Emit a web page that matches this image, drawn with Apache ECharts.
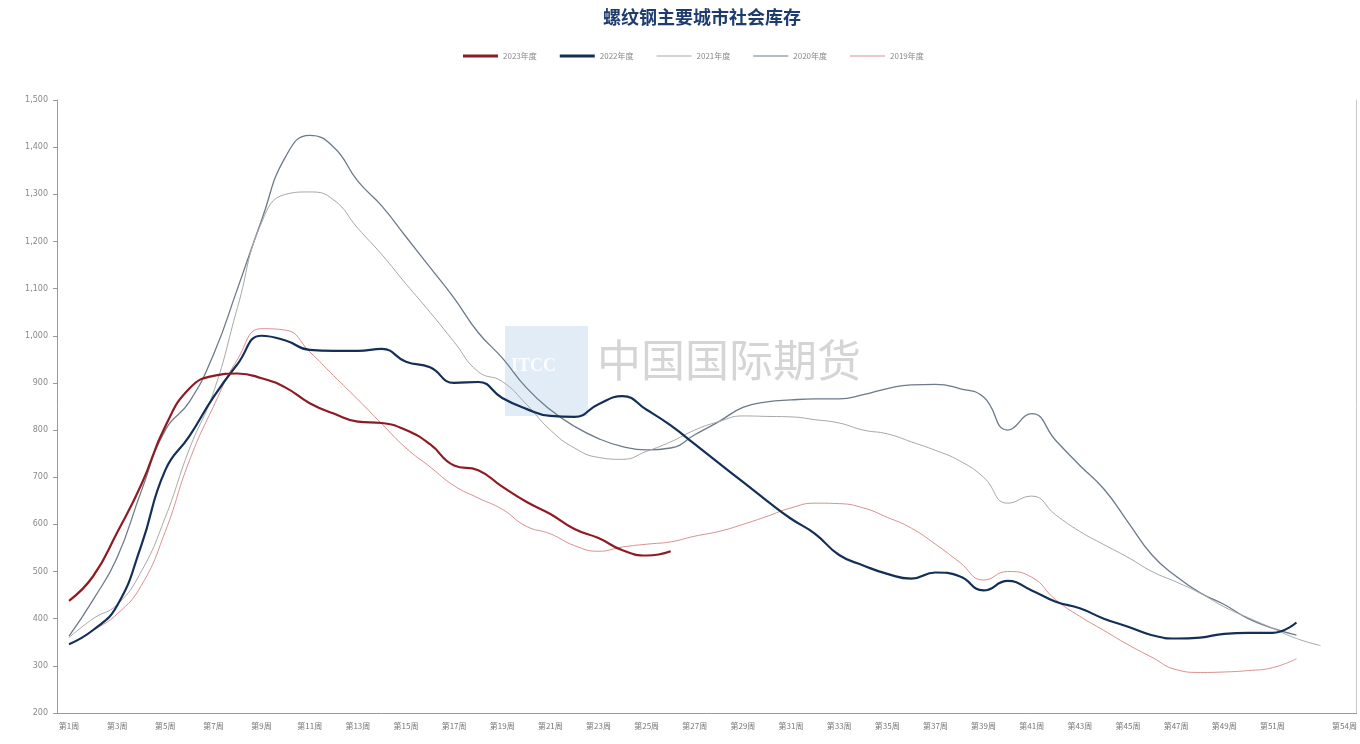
<!DOCTYPE html>
<html>
<head>
<meta charset="utf-8">
<script src="https://cdn.jsdelivr.net/npm/echarts@6/dist/echarts.min.js"></script>
<style>
html,body{margin:0;padding:0;background:#fff;}
#chart{width:1360px;height:744px;}
</style>
</head>
<body>
<div id="chart"></div>
<script>
const weeks = [];
for (let i = 1; i <= 54; i++) weeks.push('第' + i + '周');

const seriesNames = ['2023年度', '2022年度', '2021年度', '2020年度', '2019年度'];

const y2023 = [438, 490, 583, 684, 808, 888, 915, 920, 910, 890, 857, 835, 818, 815, 800, 770, 725, 715, 680, 648, 622, 590, 571, 545, 534, 543];

const y2022 = [346, 376, 428, 555, 715, 787, 870, 940, 1000, 990, 970, 968, 968, 972, 945, 933, 900, 902, 868, 845, 830, 828, 855, 872, 843, 810, 770, 730, 690, 650, 612, 580, 535, 513, 495, 485, 498, 490, 460, 480, 460, 436, 422, 400, 383, 365, 358, 360, 368, 370, 370, 392];

const y2021 = [360, 400, 430, 500, 615, 760, 880, 1060, 1240, 1300, 1305, 1288, 1228, 1172, 1110, 1050, 987, 924, 903, 855, 800, 762, 742, 738, 755, 775, 800, 818, 830, 829, 828, 822, 815, 800, 792, 775, 757, 735, 700, 645, 660, 620, 585, 557, 530, 500, 478, 454, 425, 402, 380, 358, 343];

const y2020 = [363, 440, 530, 670, 800, 860, 960, 1100, 1245, 1380, 1425, 1400, 1328, 1275, 1210, 1145, 1080, 1007, 953, 890, 843, 808, 782, 765, 758, 762, 790, 818, 848, 860, 864, 866, 866, 875, 888, 896, 897, 888, 870, 800, 835, 778, 725, 675, 605, 535, 490, 455, 430, 400, 380, 365];

const y2019 = [345, 375, 410, 470, 585, 735, 850, 950, 1015, 1012, 966, 915, 865, 813, 762, 722, 682, 656, 632, 596, 580, 555, 543, 552, 558, 563, 575, 585, 600, 617, 635, 645, 644, 635, 615, 592, 558, 520, 482, 500, 488, 440, 405, 375, 345, 318, 292, 286, 287, 290, 296, 315];

const yTicks = { min: 200, max: 1500, step: 100 };

const colors = ['#8e1b24', '#142f57', '#a8a8a8', '#6c7a8a', '#d9908f'];
const widths = [2.2, 2.2, 1, 1.3, 1];
const dataSets = [y2023, y2022, y2021, y2020, y2019];

const chart = echarts.init(document.getElementById('chart'), null, { renderer: 'canvas' });
const font = '"DejaVu Sans", "Noto Sans CJK SC", sans-serif';

function lineIcon(h) { return 'path://M0,0H35V' + h + 'H0Z'; }

const option = {
  backgroundColor: '#ffffff',
  animation: false,
  title: {
    text: '螺纹钢主要城市社会库存',
    left: 598,
    top: 3,
    textStyle: { fontSize: 18, fontWeight: 'bold', color: '#1f3c6e', fontFamily: '"Noto Sans CJK SC", sans-serif' }
  },
  legend: {
    data: seriesNames.map(function (n, k) { return { name: n, icon: lineIcon(widths[k] > 1.5 ? 3 : 1.2) }; }),
    left: 458,
    top: 47,
    itemWidth: 35,
    itemHeight: 10,
    itemGap: 23,
    textStyle: { fontSize: 8, color: '#888', fontFamily: '"Noto Sans CJK SC", sans-serif' }
  },
  graphic: [
    { type: 'rect', left: 505, top: 326, shape: { width: 83, height: 90 }, style: { fill: '#c9dcef', opacity: 0.55 }, z: 0, silent: true },
    { type: 'text', left: 511, top: 357, style: { text: 'ITCC', fill: '#ffffff', font: 'bold 18px "Liberation Serif", serif', opacity: 0.85 }, z: 0, silent: true },
    { type: 'text', left: 597, top: 338, style: { text: '中国国际期货', fill: '#b9b9b9', font: '44px "Noto Sans CJK SC", sans-serif', opacity: 0.6 }, z: 0, silent: true }
  ],
  grid: { left: 57, right: 3, top: 100, bottom: 31, containLabel: false },
  xAxis: {
    type: 'category',
    data: weeks,
    boundaryGap: true,
    axisLine: { lineStyle: { color: '#9a9a9a', width: 1 } },
    axisTick: { interval: function (i) { return i % 2 === 0; }, length: 4, lineStyle: { color: '#9a9a9a' } },
    axisLabel: {
      interval: function (i) { return (i % 2 === 0 && i < 52) || i === 53; },
      fontSize: 8, color: '#777', margin: 9,
      fontFamily: '"Noto Sans CJK SC", sans-serif'
    },
    splitLine: { show: false }
  },
  yAxis: [{
    type: 'value',
    min: yTicks.min, max: yTicks.max, interval: yTicks.step,
    axisLine: { show: true, lineStyle: { color: '#9a9a9a', width: 1 } },
    axisTick: { show: true, length: 4, lineStyle: { color: '#9a9a9a' } },
    axisLabel: {
      fontSize: 8, color: '#888', margin: 9, fontFamily: font,
      formatter: function (v) { return v >= 1000 ? Math.floor(v / 1000) + ',' + String(v % 1000).padStart(3, '0') : String(v); }
    },
    splitLine: { show: false }
  }, {
    type: 'value', position: 'right',
    min: yTicks.min, max: yTicks.max, interval: yTicks.step,
    axisLine: { show: true, lineStyle: { color: '#c8c8c8', width: 1 } },
    axisTick: { show: false }, axisLabel: { show: false }, splitLine: { show: false }
  }],
  series: seriesNames.map(function (name, k) {
    return {
      name: name,
      type: 'line',
      data: dataSets[k],
      smooth: 0.5,
      symbol: 'none',
      showSymbol: false,
      z: 10 - k,
      lineStyle: { color: colors[k], width: widths[k] },
      itemStyle: { color: colors[k] }
    };
  })
};
chart.setOption(option);
</script>
</body>
</html>
